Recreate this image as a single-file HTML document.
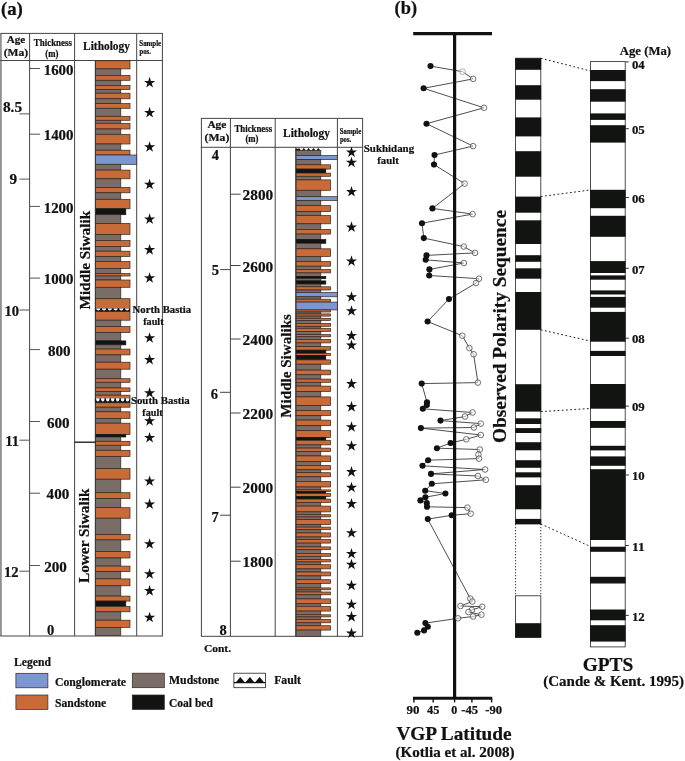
<!DOCTYPE html>
<html><head><meta charset="utf-8"><title>Figure</title>
<style>html,body{margin:0;padding:0;background:#fff}svg{display:block;will-change:transform}text{stroke:#111;stroke-width:0.22px}</style></head>
<body>
<svg width="685" height="761" viewBox="0 0 685 761" font-family="'Liberation Serif', serif" font-weight="bold">
<rect width="685" height="761" fill="#fff"/>
<line x1="0.90" y1="33.40" x2="0.90" y2="636.00" stroke="#909090" stroke-width="1.8"/>
<line x1="29.60" y1="33.40" x2="29.60" y2="636.00" stroke="#444" stroke-width="1"/>
<line x1="74.60" y1="33.40" x2="74.60" y2="636.00" stroke="#444" stroke-width="1"/>
<line x1="136.70" y1="33.40" x2="136.70" y2="636.00" stroke="#444" stroke-width="1"/>
<line x1="162.40" y1="33.40" x2="162.40" y2="636.00" stroke="#444" stroke-width="1"/>
<line x1="0.40" y1="33.40" x2="162.90" y2="33.40" stroke="#444" stroke-width="1"/>
<line x1="0.40" y1="60.50" x2="162.90" y2="60.50" stroke="#444" stroke-width="1"/>
<line x1="0.40" y1="636.00" x2="162.90" y2="636.00" stroke="#444" stroke-width="1"/>
<rect x="95.40" y="60.80" width="34.60" height="8.10" fill="#C96B38" stroke="#33241d" stroke-width="0.7"/>
<rect x="95.40" y="68.90" width="25.40" height="6.50" fill="#7A6D67" stroke="#33241d" stroke-width="0.7"/>
<rect x="95.40" y="75.40" width="34.60" height="4.90" fill="#C96B38" stroke="#33241d" stroke-width="0.7"/>
<rect x="95.40" y="80.30" width="25.40" height="5.10" fill="#7A6D67" stroke="#33241d" stroke-width="0.7"/>
<rect x="95.40" y="85.40" width="34.60" height="4.20" fill="#C96B38" stroke="#33241d" stroke-width="0.7"/>
<rect x="95.40" y="89.60" width="25.40" height="3.60" fill="#7A6D67" stroke="#33241d" stroke-width="0.7"/>
<rect x="95.40" y="93.20" width="34.60" height="5.60" fill="#C96B38" stroke="#33241d" stroke-width="0.7"/>
<rect x="95.40" y="98.80" width="25.40" height="4.80" fill="#7A6D67" stroke="#33241d" stroke-width="0.7"/>
<rect x="95.40" y="103.60" width="34.60" height="4.70" fill="#C96B38" stroke="#33241d" stroke-width="0.7"/>
<rect x="95.40" y="108.30" width="25.40" height="8.00" fill="#7A6D67" stroke="#33241d" stroke-width="0.7"/>
<rect x="95.40" y="116.30" width="34.60" height="4.00" fill="#C96B38" stroke="#33241d" stroke-width="0.7"/>
<rect x="95.40" y="120.30" width="25.40" height="3.00" fill="#7A6D67" stroke="#33241d" stroke-width="0.7"/>
<rect x="95.40" y="123.30" width="34.60" height="5.70" fill="#C96B38" stroke="#33241d" stroke-width="0.7"/>
<rect x="95.40" y="129.00" width="25.40" height="5.30" fill="#7A6D67" stroke="#33241d" stroke-width="0.7"/>
<rect x="95.40" y="134.30" width="34.60" height="9.70" fill="#C96B38" stroke="#33241d" stroke-width="0.7"/>
<rect x="95.40" y="144.00" width="25.40" height="6.20" fill="#7A6D67" stroke="#33241d" stroke-width="0.7"/>
<rect x="95.40" y="150.20" width="34.60" height="4.80" fill="#C96B38" stroke="#33241d" stroke-width="0.7"/>
<rect x="95.40" y="155.00" width="41.30" height="9.30" fill="#7C96D2" stroke="#33241d" stroke-width="0.7"/>
<rect x="95.40" y="164.30" width="25.40" height="5.80" fill="#7A6D67" stroke="#33241d" stroke-width="0.7"/>
<rect x="95.40" y="170.10" width="34.60" height="8.70" fill="#C96B38" stroke="#33241d" stroke-width="0.7"/>
<rect x="95.40" y="178.80" width="25.40" height="8.60" fill="#7A6D67" stroke="#33241d" stroke-width="0.7"/>
<rect x="95.40" y="187.40" width="34.60" height="5.40" fill="#C96B38" stroke="#33241d" stroke-width="0.7"/>
<rect x="95.40" y="192.80" width="25.40" height="6.50" fill="#7A6D67" stroke="#33241d" stroke-width="0.7"/>
<rect x="95.40" y="199.30" width="34.60" height="9.50" fill="#C96B38" stroke="#33241d" stroke-width="0.7"/>
<rect x="95.40" y="208.80" width="30.40" height="5.90" fill="#121412" stroke="#121412" stroke-width="0.7"/>
<rect x="95.40" y="214.70" width="25.40" height="8.70" fill="#7A6D67" stroke="#33241d" stroke-width="0.7"/>
<rect x="95.40" y="223.40" width="34.60" height="11.00" fill="#C96B38" stroke="#33241d" stroke-width="0.7"/>
<rect x="95.40" y="234.40" width="25.40" height="6.10" fill="#7A6D67" stroke="#33241d" stroke-width="0.7"/>
<rect x="95.40" y="240.50" width="34.60" height="5.90" fill="#C96B38" stroke="#33241d" stroke-width="0.7"/>
<rect x="95.40" y="246.40" width="25.40" height="4.80" fill="#7A6D67" stroke="#33241d" stroke-width="0.7"/>
<rect x="95.40" y="251.20" width="34.60" height="5.30" fill="#C96B38" stroke="#33241d" stroke-width="0.7"/>
<rect x="95.40" y="256.50" width="25.40" height="5.00" fill="#7A6D67" stroke="#33241d" stroke-width="0.7"/>
<rect x="95.40" y="261.50" width="34.60" height="7.10" fill="#C96B38" stroke="#33241d" stroke-width="0.7"/>
<rect x="95.40" y="268.60" width="25.40" height="4.90" fill="#7A6D67" stroke="#33241d" stroke-width="0.7"/>
<rect x="95.40" y="273.50" width="34.60" height="2.50" fill="#C96B38" stroke="#33241d" stroke-width="0.7"/>
<rect x="95.40" y="276.00" width="25.40" height="4.00" fill="#7A6D67" stroke="#33241d" stroke-width="0.7"/>
<rect x="95.40" y="280.00" width="34.60" height="7.30" fill="#C96B38" stroke="#33241d" stroke-width="0.7"/>
<rect x="95.40" y="287.30" width="25.40" height="11.40" fill="#7A6D67" stroke="#33241d" stroke-width="0.7"/>
<rect x="95.40" y="298.70" width="34.60" height="9.80" fill="#C96B38" stroke="#33241d" stroke-width="0.7"/>
<rect x="95.40" y="311.40" width="34.60" height="8.80" fill="#C96B38" stroke="#33241d" stroke-width="0.7"/>
<rect x="95.40" y="320.20" width="25.40" height="6.30" fill="#7A6D67" stroke="#33241d" stroke-width="0.7"/>
<rect x="95.40" y="326.50" width="34.60" height="6.10" fill="#C96B38" stroke="#33241d" stroke-width="0.7"/>
<rect x="95.40" y="332.60" width="25.40" height="8.30" fill="#7A6D67" stroke="#33241d" stroke-width="0.7"/>
<rect x="95.40" y="340.90" width="30.40" height="4.00" fill="#121412" stroke="#121412" stroke-width="0.7"/>
<rect x="95.40" y="344.90" width="25.40" height="4.20" fill="#7A6D67" stroke="#33241d" stroke-width="0.7"/>
<rect x="95.40" y="349.10" width="34.60" height="5.80" fill="#C96B38" stroke="#33241d" stroke-width="0.7"/>
<rect x="95.40" y="354.90" width="25.40" height="7.30" fill="#7A6D67" stroke="#33241d" stroke-width="0.7"/>
<rect x="95.40" y="362.20" width="34.60" height="7.00" fill="#C96B38" stroke="#33241d" stroke-width="0.7"/>
<rect x="95.40" y="369.20" width="25.40" height="9.50" fill="#7A6D67" stroke="#33241d" stroke-width="0.7"/>
<rect x="95.40" y="378.70" width="34.60" height="3.60" fill="#C96B38" stroke="#33241d" stroke-width="0.7"/>
<rect x="95.40" y="382.30" width="25.40" height="5.60" fill="#7A6D67" stroke="#33241d" stroke-width="0.7"/>
<rect x="95.40" y="387.90" width="34.60" height="3.60" fill="#C96B38" stroke="#33241d" stroke-width="0.7"/>
<rect x="95.40" y="391.50" width="25.40" height="3.70" fill="#7A6D67" stroke="#33241d" stroke-width="0.7"/>
<rect x="95.40" y="395.20" width="34.60" height="3.20" fill="#C96B38" stroke="#33241d" stroke-width="0.7"/>
<rect x="95.40" y="402.80" width="34.60" height="4.40" fill="#C96B38" stroke="#33241d" stroke-width="0.7"/>
<rect x="95.40" y="407.20" width="25.40" height="4.60" fill="#7A6D67" stroke="#33241d" stroke-width="0.7"/>
<rect x="95.40" y="411.80" width="34.60" height="6.70" fill="#C96B38" stroke="#33241d" stroke-width="0.7"/>
<rect x="95.40" y="418.50" width="25.40" height="4.70" fill="#7A6D67" stroke="#33241d" stroke-width="0.7"/>
<rect x="95.40" y="423.20" width="34.60" height="11.40" fill="#C96B38" stroke="#33241d" stroke-width="0.7"/>
<rect x="95.40" y="434.60" width="30.40" height="2.40" fill="#121412" stroke="#121412" stroke-width="0.7"/>
<rect x="95.40" y="437.00" width="25.40" height="4.30" fill="#7A6D67" stroke="#33241d" stroke-width="0.7"/>
<rect x="95.40" y="441.30" width="34.60" height="4.00" fill="#C96B38" stroke="#33241d" stroke-width="0.7"/>
<rect x="95.40" y="445.30" width="25.40" height="5.00" fill="#7A6D67" stroke="#33241d" stroke-width="0.7"/>
<rect x="95.40" y="450.30" width="34.60" height="6.20" fill="#C96B38" stroke="#33241d" stroke-width="0.7"/>
<rect x="95.40" y="456.50" width="25.40" height="12.10" fill="#7A6D67" stroke="#33241d" stroke-width="0.7"/>
<rect x="95.40" y="468.60" width="34.60" height="10.60" fill="#C96B38" stroke="#33241d" stroke-width="0.7"/>
<rect x="95.40" y="479.20" width="25.40" height="13.50" fill="#7A6D67" stroke="#33241d" stroke-width="0.7"/>
<rect x="95.40" y="492.70" width="34.60" height="5.80" fill="#C96B38" stroke="#33241d" stroke-width="0.7"/>
<rect x="95.40" y="498.50" width="25.40" height="9.20" fill="#7A6D67" stroke="#33241d" stroke-width="0.7"/>
<rect x="95.40" y="507.70" width="34.60" height="10.50" fill="#C96B38" stroke="#33241d" stroke-width="0.7"/>
<rect x="95.40" y="518.20" width="25.40" height="16.30" fill="#7A6D67" stroke="#33241d" stroke-width="0.7"/>
<rect x="95.40" y="534.50" width="34.60" height="5.40" fill="#C96B38" stroke="#33241d" stroke-width="0.7"/>
<rect x="95.40" y="539.90" width="25.40" height="11.70" fill="#7A6D67" stroke="#33241d" stroke-width="0.7"/>
<rect x="95.40" y="551.60" width="34.60" height="6.40" fill="#C96B38" stroke="#33241d" stroke-width="0.7"/>
<rect x="95.40" y="558.00" width="25.40" height="8.10" fill="#7A6D67" stroke="#33241d" stroke-width="0.7"/>
<rect x="95.40" y="566.10" width="34.60" height="5.50" fill="#C96B38" stroke="#33241d" stroke-width="0.7"/>
<rect x="95.40" y="571.60" width="25.40" height="7.30" fill="#7A6D67" stroke="#33241d" stroke-width="0.7"/>
<rect x="95.40" y="578.90" width="34.60" height="6.90" fill="#C96B38" stroke="#33241d" stroke-width="0.7"/>
<rect x="95.40" y="585.80" width="25.40" height="10.30" fill="#7A6D67" stroke="#33241d" stroke-width="0.7"/>
<rect x="95.40" y="596.10" width="34.60" height="5.00" fill="#C96B38" stroke="#33241d" stroke-width="0.7"/>
<rect x="95.40" y="601.10" width="30.40" height="5.30" fill="#121412" stroke="#121412" stroke-width="0.7"/>
<rect x="95.40" y="606.40" width="34.60" height="5.40" fill="#C96B38" stroke="#33241d" stroke-width="0.7"/>
<rect x="95.40" y="611.80" width="25.40" height="8.40" fill="#7A6D67" stroke="#33241d" stroke-width="0.7"/>
<rect x="95.40" y="620.20" width="34.60" height="7.20" fill="#C96B38" stroke="#33241d" stroke-width="0.7"/>
<rect x="95.40" y="627.40" width="25.40" height="8.20" fill="#7A6D67" stroke="#33241d" stroke-width="0.7"/>
<line x1="95.3" y1="60.5" x2="95.3" y2="635.6" stroke="#333" stroke-width="0.9"/>
<rect x="95.10" y="308.60" width="35.20" height="2.90" fill="#111"/>
<path d="M96.21,308.50 A2.08,2.09 0 0 0 100.36,308.50 Z" fill="#fff"/>
<path d="M101.97,308.50 A2.08,2.09 0 0 0 106.13,308.50 Z" fill="#fff"/>
<path d="M107.74,308.50 A2.08,2.09 0 0 0 111.89,308.50 Z" fill="#fff"/>
<path d="M113.51,308.50 A2.08,2.09 0 0 0 117.66,308.50 Z" fill="#fff"/>
<path d="M119.27,308.50 A2.08,2.09 0 0 0 123.43,308.50 Z" fill="#fff"/>
<path d="M125.04,308.50 A2.08,2.09 0 0 0 129.19,308.50 Z" fill="#fff"/>
<rect x="95.10" y="398.40" width="35.20" height="4.40" fill="#111"/>
<path d="M96.09,398.30 A1.78,3.17 0 0 0 99.65,398.30 Z" fill="#fff"/>
<path d="M101.03,398.30 A1.78,3.17 0 0 0 104.59,398.30 Z" fill="#fff"/>
<path d="M105.98,398.30 A1.78,3.17 0 0 0 109.54,398.30 Z" fill="#fff"/>
<path d="M110.92,398.30 A1.78,3.17 0 0 0 114.48,398.30 Z" fill="#fff"/>
<path d="M115.86,398.30 A1.78,3.17 0 0 0 119.42,398.30 Z" fill="#fff"/>
<path d="M120.81,398.30 A1.78,3.17 0 0 0 124.37,398.30 Z" fill="#fff"/>
<path d="M125.75,398.30 A1.78,3.17 0 0 0 129.31,398.30 Z" fill="#fff"/>
<line x1="74.6" y1="442.2" x2="95.6" y2="442.2" stroke="#111" stroke-width="1.3"/>
<polygon points="149.60,76.85 150.91,80.89 155.16,80.89 151.73,83.39 153.04,87.43 149.60,84.93 146.16,87.43 147.47,83.39 144.04,80.89 148.29,80.89" fill="#111"/>
<polygon points="149.60,106.85 150.91,110.89 155.16,110.89 151.73,113.39 153.04,117.43 149.60,114.93 146.16,117.43 147.47,113.39 144.04,110.89 148.29,110.89" fill="#111"/>
<polygon points="149.60,141.15 150.91,145.19 155.16,145.19 151.73,147.69 153.04,151.73 149.60,149.23 146.16,151.73 147.47,147.69 144.04,145.19 148.29,145.19" fill="#111"/>
<polygon points="149.60,178.75 150.91,182.79 155.16,182.79 151.73,185.29 153.04,189.33 149.60,186.83 146.16,189.33 147.47,185.29 144.04,182.79 148.29,182.79" fill="#111"/>
<polygon points="149.60,213.35 150.91,217.39 155.16,217.39 151.73,219.89 153.04,223.93 149.60,221.43 146.16,223.93 147.47,219.89 144.04,217.39 148.29,217.39" fill="#111"/>
<polygon points="149.60,244.05 150.91,248.09 155.16,248.09 151.73,250.59 153.04,254.63 149.60,252.13 146.16,254.63 147.47,250.59 144.04,248.09 148.29,248.09" fill="#111"/>
<polygon points="149.60,272.25 150.91,276.29 155.16,276.29 151.73,278.79 153.04,282.83 149.60,280.33 146.16,282.83 147.47,278.79 144.04,276.29 148.29,276.29" fill="#111"/>
<polygon points="149.60,332.15 150.91,336.19 155.16,336.19 151.73,338.69 153.04,342.73 149.60,340.23 146.16,342.73 147.47,338.69 144.04,336.19 148.29,336.19" fill="#111"/>
<polygon points="149.60,353.85 150.91,357.89 155.16,357.89 151.73,360.39 153.04,364.43 149.60,361.93 146.16,364.43 147.47,360.39 144.04,357.89 148.29,357.89" fill="#111"/>
<polygon points="149.60,387.25 150.91,391.29 155.16,391.29 151.73,393.79 153.04,397.83 149.60,395.33 146.16,397.83 147.47,393.79 144.04,391.29 148.29,391.29" fill="#111"/>
<polygon points="149.60,415.15 150.91,419.19 155.16,419.19 151.73,421.69 153.04,425.73 149.60,423.23 146.16,425.73 147.47,421.69 144.04,419.19 148.29,419.19" fill="#111"/>
<polygon points="149.60,431.95 150.91,435.99 155.16,435.99 151.73,438.49 153.04,442.53 149.60,440.03 146.16,442.53 147.47,438.49 144.04,435.99 148.29,435.99" fill="#111"/>
<polygon points="149.60,475.45 150.91,479.49 155.16,479.49 151.73,481.99 153.04,486.03 149.60,483.53 146.16,486.03 147.47,481.99 144.04,479.49 148.29,479.49" fill="#111"/>
<polygon points="149.60,498.35 150.91,502.39 155.16,502.39 151.73,504.89 153.04,508.93 149.60,506.43 146.16,508.93 147.47,504.89 144.04,502.39 148.29,502.39" fill="#111"/>
<polygon points="149.60,538.25 150.91,542.29 155.16,542.29 151.73,544.79 153.04,548.83 149.60,546.33 146.16,548.83 147.47,544.79 144.04,542.29 148.29,542.29" fill="#111"/>
<polygon points="149.60,568.25 150.91,572.29 155.16,572.29 151.73,574.79 153.04,578.83 149.60,576.33 146.16,578.83 147.47,574.79 144.04,572.29 148.29,572.29" fill="#111"/>
<polygon points="149.60,585.05 150.91,589.09 155.16,589.09 151.73,591.59 153.04,595.63 149.60,593.13 146.16,595.63 147.47,591.59 144.04,589.09 148.29,589.09" fill="#111"/>
<polygon points="149.60,611.75 150.91,615.79 155.16,615.79 151.73,618.29 153.04,622.33 149.60,619.83 146.16,622.33 147.47,618.29 144.04,615.79 148.29,615.79" fill="#111"/>
<text x="15.90" y="42.90" font-size="10.80" text-anchor="middle" fill="#111" textLength="18.50" lengthAdjust="spacingAndGlyphs" >Age</text>
<text x="15.90" y="55.80" font-size="10.60" text-anchor="middle" fill="#111" textLength="24.40" lengthAdjust="spacingAndGlyphs" >(Ma)</text>
<text x="52.90" y="46.30" font-size="9.50" text-anchor="middle" fill="#111" textLength="38.10" lengthAdjust="spacingAndGlyphs" >Thickness</text>
<text x="51.90" y="56.50" font-size="9.50" text-anchor="middle" fill="#111" textLength="13.10" lengthAdjust="spacingAndGlyphs" >(m)</text>
<text x="106.50" y="50.20" font-size="12.00" text-anchor="middle" fill="#111" textLength="46.80" lengthAdjust="spacingAndGlyphs" >Lithology</text>
<text x="139.30" y="46.20" font-size="7.50" text-anchor="start" fill="#111" textLength="21.90" lengthAdjust="spacingAndGlyphs" >Sample</text>
<text x="139.60" y="53.80" font-size="7.50" text-anchor="start" fill="#111" textLength="11.20" lengthAdjust="spacingAndGlyphs" >pos.</text>
<line x1="29.6" y1="68.50" x2="40" y2="68.50" stroke="#555" stroke-width="1"/>
<text x="73.50" y="74.60" font-size="14.50" text-anchor="end" fill="#111" textLength="29.80" lengthAdjust="spacingAndGlyphs" >1600</text>
<line x1="29.6" y1="134.20" x2="40" y2="134.20" stroke="#555" stroke-width="1"/>
<text x="73.50" y="140.30" font-size="14.50" text-anchor="end" fill="#111" textLength="29.80" lengthAdjust="spacingAndGlyphs" >1400</text>
<line x1="29.6" y1="206.40" x2="40" y2="206.40" stroke="#555" stroke-width="1"/>
<text x="73.50" y="212.50" font-size="14.50" text-anchor="end" fill="#111" textLength="29.80" lengthAdjust="spacingAndGlyphs" >1200</text>
<line x1="29.6" y1="278.10" x2="40" y2="278.10" stroke="#555" stroke-width="1"/>
<text x="73.50" y="284.20" font-size="14.50" text-anchor="end" fill="#111" textLength="29.80" lengthAdjust="spacingAndGlyphs" >1000</text>
<line x1="29.6" y1="349.60" x2="40" y2="349.60" stroke="#555" stroke-width="1"/>
<text x="70.50" y="355.80" font-size="14.50" text-anchor="end" fill="#111" textLength="22.60" lengthAdjust="spacingAndGlyphs" >800</text>
<line x1="29.6" y1="421.50" x2="40" y2="421.50" stroke="#555" stroke-width="1"/>
<text x="69.60" y="427.70" font-size="14.50" text-anchor="end" fill="#111" textLength="22.60" lengthAdjust="spacingAndGlyphs" >600</text>
<line x1="29.6" y1="493.20" x2="40" y2="493.20" stroke="#555" stroke-width="1"/>
<text x="69.20" y="499.40" font-size="14.50" text-anchor="end" fill="#111" textLength="22.60" lengthAdjust="spacingAndGlyphs" >400</text>
<line x1="29.6" y1="565.50" x2="40" y2="565.50" stroke="#555" stroke-width="1"/>
<text x="66.90" y="571.70" font-size="14.50" text-anchor="end" fill="#111" textLength="22.60" lengthAdjust="spacingAndGlyphs" >200</text>
<text x="50.60" y="634.90" font-size="14.50" text-anchor="middle" fill="#111" >0</text>
<line x1="19.4" y1="113.90" x2="29.6" y2="113.90" stroke="#555" stroke-width="1"/>
<text x="2.90" y="112.00" font-size="14.50" text-anchor="start" fill="#111" textLength="19.20" lengthAdjust="spacingAndGlyphs" >8.5</text>
<line x1="19.4" y1="179.10" x2="29.6" y2="179.10" stroke="#555" stroke-width="1"/>
<text x="9.60" y="184.00" font-size="14.50" text-anchor="start" fill="#111" textLength="7.60" lengthAdjust="spacingAndGlyphs" >9</text>
<line x1="19.4" y1="310.00" x2="29.6" y2="310.00" stroke="#555" stroke-width="1"/>
<text x="4.40" y="315.50" font-size="14.50" text-anchor="start" fill="#111" textLength="14.60" lengthAdjust="spacingAndGlyphs" >10</text>
<line x1="19.4" y1="440.20" x2="29.6" y2="440.20" stroke="#555" stroke-width="1"/>
<text x="5.30" y="446.20" font-size="14.50" text-anchor="start" fill="#111" textLength="13.80" lengthAdjust="spacingAndGlyphs" >11</text>
<line x1="19.4" y1="571.20" x2="29.6" y2="571.20" stroke="#555" stroke-width="1"/>
<text x="4.00" y="576.60" font-size="14.50" text-anchor="start" fill="#111" textLength="14.60" lengthAdjust="spacingAndGlyphs" >12</text>
<text transform="translate(89.8,260.2) rotate(-90)" font-size="15.5" text-anchor="middle" textLength="98.6" lengthAdjust="spacingAndGlyphs" fill="#111">Middle Siwalik</text>
<text transform="translate(89.0,535.8) rotate(-90)" font-size="15.5" text-anchor="middle" textLength="94.5" lengthAdjust="spacingAndGlyphs" fill="#111">Lower Siwalik</text>
<text x="132.60" y="313.00" font-size="10.70" text-anchor="start" fill="#111" textLength="58.60" lengthAdjust="spacingAndGlyphs" >North Bastia</text>
<text x="143.20" y="324.60" font-size="10.70" text-anchor="start" fill="#111" textLength="20.40" lengthAdjust="spacingAndGlyphs" >fault</text>
<text x="130.90" y="403.90" font-size="10.70" text-anchor="start" fill="#111" textLength="58.90" lengthAdjust="spacingAndGlyphs" >South Bastia</text>
<text x="142.30" y="415.50" font-size="10.70" text-anchor="start" fill="#111" textLength="20.40" lengthAdjust="spacingAndGlyphs" >fault</text>
<text x="0.90" y="15.20" font-size="19.00" text-anchor="start" fill="#111" textLength="22.00" lengthAdjust="spacingAndGlyphs" >(a)</text>
<text x="394.60" y="14.20" font-size="18.50" text-anchor="start" fill="#111" textLength="22.40" lengthAdjust="spacingAndGlyphs" >(b)</text>
<line x1="201.40" y1="118.40" x2="201.40" y2="636.30" stroke="#444" stroke-width="1"/>
<line x1="230.40" y1="118.40" x2="230.40" y2="636.30" stroke="#444" stroke-width="1"/>
<line x1="275.20" y1="118.40" x2="275.20" y2="636.30" stroke="#444" stroke-width="1"/>
<line x1="337.40" y1="118.40" x2="337.40" y2="636.30" stroke="#444" stroke-width="1"/>
<line x1="362.60" y1="118.40" x2="362.60" y2="636.30" stroke="#444" stroke-width="1"/>
<line x1="200.90" y1="118.40" x2="363.10" y2="118.40" stroke="#444" stroke-width="1"/>
<line x1="200.90" y1="147.30" x2="363.10" y2="147.30" stroke="#444" stroke-width="1"/>
<line x1="200.90" y1="636.30" x2="363.10" y2="636.30" stroke="#444" stroke-width="1"/>
<rect x="296.00" y="150.40" width="24.80" height="5.20" fill="#7A6D67" stroke="#33241d" stroke-width="0.7"/>
<rect x="296.00" y="155.60" width="41.30" height="4.00" fill="#7C96D2" stroke="#33241d" stroke-width="0.7"/>
<rect x="296.00" y="159.60" width="24.80" height="5.20" fill="#7A6D67" stroke="#33241d" stroke-width="0.7"/>
<rect x="296.00" y="164.80" width="34.60" height="4.30" fill="#C96B38" stroke="#33241d" stroke-width="0.7"/>
<rect x="296.00" y="169.10" width="29.80" height="4.00" fill="#121412" stroke="#121412" stroke-width="0.7"/>
<rect x="296.00" y="173.10" width="34.60" height="3.20" fill="#C96B38" stroke="#33241d" stroke-width="0.7"/>
<rect x="296.00" y="176.30" width="24.80" height="3.60" fill="#7A6D67" stroke="#33241d" stroke-width="0.7"/>
<rect x="296.00" y="179.90" width="34.60" height="10.40" fill="#C96B38" stroke="#33241d" stroke-width="0.7"/>
<rect x="296.00" y="190.30" width="24.80" height="6.40" fill="#7A6D67" stroke="#33241d" stroke-width="0.7"/>
<rect x="296.00" y="196.70" width="41.30" height="3.80" fill="#7C96D2" stroke="#33241d" stroke-width="0.7"/>
<rect x="296.00" y="200.50" width="24.80" height="5.10" fill="#7A6D67" stroke="#33241d" stroke-width="0.7"/>
<rect x="296.00" y="205.60" width="34.60" height="6.00" fill="#C96B38" stroke="#33241d" stroke-width="0.7"/>
<rect x="296.00" y="211.60" width="24.80" height="3.90" fill="#7A6D67" stroke="#33241d" stroke-width="0.7"/>
<rect x="296.00" y="215.50" width="34.60" height="8.30" fill="#C96B38" stroke="#33241d" stroke-width="0.7"/>
<rect x="296.00" y="223.80" width="24.80" height="5.60" fill="#7A6D67" stroke="#33241d" stroke-width="0.7"/>
<rect x="296.00" y="229.40" width="34.60" height="4.70" fill="#C96B38" stroke="#33241d" stroke-width="0.7"/>
<rect x="296.00" y="234.10" width="24.80" height="5.50" fill="#7A6D67" stroke="#33241d" stroke-width="0.7"/>
<rect x="296.00" y="239.60" width="29.80" height="3.70" fill="#121412" stroke="#121412" stroke-width="0.7"/>
<rect x="296.00" y="243.30" width="24.80" height="5.50" fill="#7A6D67" stroke="#33241d" stroke-width="0.7"/>
<rect x="296.00" y="248.80" width="34.60" height="7.60" fill="#C96B38" stroke="#33241d" stroke-width="0.7"/>
<rect x="296.00" y="256.40" width="24.80" height="5.10" fill="#7A6D67" stroke="#33241d" stroke-width="0.7"/>
<rect x="296.00" y="261.50" width="34.60" height="4.70" fill="#C96B38" stroke="#33241d" stroke-width="0.7"/>
<rect x="296.00" y="266.20" width="24.80" height="3.30" fill="#7A6D67" stroke="#33241d" stroke-width="0.7"/>
<rect x="296.00" y="269.50" width="34.60" height="3.40" fill="#C96B38" stroke="#33241d" stroke-width="0.7"/>
<rect x="296.00" y="272.90" width="24.80" height="3.50" fill="#7A6D67" stroke="#33241d" stroke-width="0.7"/>
<rect x="296.00" y="276.40" width="29.80" height="2.30" fill="#121412" stroke="#121412" stroke-width="0.7"/>
<rect x="296.00" y="278.70" width="24.80" height="2.20" fill="#7A6D67" stroke="#33241d" stroke-width="0.7"/>
<rect x="296.00" y="280.90" width="29.80" height="3.20" fill="#121412" stroke="#121412" stroke-width="0.7"/>
<rect x="296.00" y="284.10" width="24.80" height="2.70" fill="#7A6D67" stroke="#33241d" stroke-width="0.7"/>
<rect x="296.00" y="286.80" width="34.60" height="3.20" fill="#C96B38" stroke="#33241d" stroke-width="0.7"/>
<rect x="296.00" y="290.00" width="24.80" height="2.50" fill="#7A6D67" stroke="#33241d" stroke-width="0.7"/>
<rect x="296.00" y="292.50" width="41.30" height="4.30" fill="#7C96D2" stroke="#33241d" stroke-width="0.7"/>
<rect x="296.00" y="296.80" width="24.80" height="2.40" fill="#7A6D67" stroke="#33241d" stroke-width="0.7"/>
<rect x="296.00" y="299.20" width="34.60" height="2.90" fill="#C96B38" stroke="#33241d" stroke-width="0.7"/>
<rect x="296.00" y="302.10" width="41.30" height="7.80" fill="#7C96D2" stroke="#33241d" stroke-width="0.7"/>
<rect x="296.00" y="309.90" width="34.60" height="2.10" fill="#C96B38" stroke="#33241d" stroke-width="0.7"/>
<rect x="296.00" y="312.00" width="24.80" height="1.90" fill="#7A6D67" stroke="#33241d" stroke-width="0.7"/>
<rect x="296.00" y="313.90" width="34.60" height="2.20" fill="#C96B38" stroke="#33241d" stroke-width="0.7"/>
<rect x="296.00" y="316.10" width="24.80" height="2.20" fill="#7A6D67" stroke="#33241d" stroke-width="0.7"/>
<rect x="296.00" y="318.30" width="34.60" height="2.10" fill="#C96B38" stroke="#33241d" stroke-width="0.7"/>
<rect x="296.00" y="320.40" width="24.80" height="3.00" fill="#7A6D67" stroke="#33241d" stroke-width="0.7"/>
<rect x="296.00" y="323.40" width="34.60" height="2.90" fill="#C96B38" stroke="#33241d" stroke-width="0.7"/>
<rect x="296.00" y="326.30" width="24.80" height="2.00" fill="#7A6D67" stroke="#33241d" stroke-width="0.7"/>
<rect x="296.00" y="328.30" width="34.60" height="3.10" fill="#C96B38" stroke="#33241d" stroke-width="0.7"/>
<rect x="296.00" y="331.40" width="24.80" height="3.20" fill="#7A6D67" stroke="#33241d" stroke-width="0.7"/>
<rect x="296.00" y="334.60" width="34.60" height="2.20" fill="#C96B38" stroke="#33241d" stroke-width="0.7"/>
<rect x="296.00" y="336.80" width="24.80" height="2.60" fill="#7A6D67" stroke="#33241d" stroke-width="0.7"/>
<rect x="296.00" y="339.40" width="34.60" height="3.50" fill="#C96B38" stroke="#33241d" stroke-width="0.7"/>
<rect x="296.00" y="342.90" width="24.80" height="3.70" fill="#7A6D67" stroke="#33241d" stroke-width="0.7"/>
<rect x="296.00" y="346.60" width="34.60" height="3.60" fill="#C96B38" stroke="#33241d" stroke-width="0.7"/>
<rect x="296.00" y="350.20" width="29.80" height="3.10" fill="#121412" stroke="#121412" stroke-width="0.7"/>
<rect x="296.00" y="353.30" width="34.60" height="2.20" fill="#C96B38" stroke="#33241d" stroke-width="0.7"/>
<rect x="296.00" y="355.50" width="29.80" height="4.40" fill="#121412" stroke="#121412" stroke-width="0.7"/>
<rect x="296.00" y="359.90" width="34.60" height="4.30" fill="#C96B38" stroke="#33241d" stroke-width="0.7"/>
<rect x="296.00" y="364.20" width="24.80" height="5.90" fill="#7A6D67" stroke="#33241d" stroke-width="0.7"/>
<rect x="296.00" y="370.10" width="34.60" height="4.70" fill="#C96B38" stroke="#33241d" stroke-width="0.7"/>
<rect x="296.00" y="374.80" width="24.80" height="4.30" fill="#7A6D67" stroke="#33241d" stroke-width="0.7"/>
<rect x="296.00" y="379.10" width="34.60" height="3.20" fill="#C96B38" stroke="#33241d" stroke-width="0.7"/>
<rect x="296.00" y="382.30" width="24.80" height="3.80" fill="#7A6D67" stroke="#33241d" stroke-width="0.7"/>
<rect x="296.00" y="386.10" width="34.60" height="5.40" fill="#C96B38" stroke="#33241d" stroke-width="0.7"/>
<rect x="296.00" y="391.50" width="24.80" height="5.40" fill="#7A6D67" stroke="#33241d" stroke-width="0.7"/>
<rect x="296.00" y="396.90" width="34.60" height="8.70" fill="#C96B38" stroke="#33241d" stroke-width="0.7"/>
<rect x="296.00" y="405.60" width="24.80" height="5.00" fill="#7A6D67" stroke="#33241d" stroke-width="0.7"/>
<rect x="296.00" y="410.60" width="34.60" height="5.10" fill="#C96B38" stroke="#33241d" stroke-width="0.7"/>
<rect x="296.00" y="415.70" width="24.80" height="4.40" fill="#7A6D67" stroke="#33241d" stroke-width="0.7"/>
<rect x="296.00" y="420.10" width="34.60" height="5.60" fill="#C96B38" stroke="#33241d" stroke-width="0.7"/>
<rect x="296.00" y="425.70" width="24.80" height="4.90" fill="#7A6D67" stroke="#33241d" stroke-width="0.7"/>
<rect x="296.00" y="430.60" width="34.60" height="7.00" fill="#C96B38" stroke="#33241d" stroke-width="0.7"/>
<rect x="296.00" y="437.60" width="29.80" height="2.70" fill="#121412" stroke="#121412" stroke-width="0.7"/>
<rect x="296.00" y="440.30" width="34.60" height="4.60" fill="#C96B38" stroke="#33241d" stroke-width="0.7"/>
<rect x="296.00" y="444.90" width="24.80" height="3.20" fill="#7A6D67" stroke="#33241d" stroke-width="0.7"/>
<rect x="296.00" y="448.10" width="34.60" height="3.40" fill="#C96B38" stroke="#33241d" stroke-width="0.7"/>
<rect x="296.00" y="451.50" width="24.80" height="4.40" fill="#7A6D67" stroke="#33241d" stroke-width="0.7"/>
<rect x="296.00" y="455.90" width="34.60" height="5.80" fill="#C96B38" stroke="#33241d" stroke-width="0.7"/>
<rect x="296.00" y="461.70" width="24.80" height="3.70" fill="#7A6D67" stroke="#33241d" stroke-width="0.7"/>
<rect x="296.00" y="465.40" width="34.60" height="4.40" fill="#C96B38" stroke="#33241d" stroke-width="0.7"/>
<rect x="296.00" y="469.80" width="24.80" height="2.90" fill="#7A6D67" stroke="#33241d" stroke-width="0.7"/>
<rect x="296.00" y="472.70" width="34.60" height="4.10" fill="#C96B38" stroke="#33241d" stroke-width="0.7"/>
<rect x="296.00" y="476.80" width="24.80" height="4.60" fill="#7A6D67" stroke="#33241d" stroke-width="0.7"/>
<rect x="296.00" y="481.40" width="34.60" height="5.60" fill="#C96B38" stroke="#33241d" stroke-width="0.7"/>
<rect x="296.00" y="487.00" width="24.80" height="2.90" fill="#7A6D67" stroke="#33241d" stroke-width="0.7"/>
<rect x="296.00" y="489.90" width="34.60" height="1.50" fill="#C96B38" stroke="#33241d" stroke-width="0.7"/>
<rect x="296.00" y="491.40" width="29.80" height="2.10" fill="#121412" stroke="#121412" stroke-width="0.7"/>
<rect x="296.00" y="493.50" width="34.60" height="3.10" fill="#C96B38" stroke="#33241d" stroke-width="0.7"/>
<rect x="296.00" y="496.60" width="29.80" height="2.50" fill="#121412" stroke="#121412" stroke-width="0.7"/>
<rect x="296.00" y="499.10" width="34.60" height="3.40" fill="#C96B38" stroke="#33241d" stroke-width="0.7"/>
<rect x="296.00" y="502.50" width="24.80" height="3.60" fill="#7A6D67" stroke="#33241d" stroke-width="0.7"/>
<rect x="296.00" y="506.10" width="34.60" height="5.80" fill="#C96B38" stroke="#33241d" stroke-width="0.7"/>
<rect x="296.00" y="511.90" width="24.80" height="2.80" fill="#7A6D67" stroke="#33241d" stroke-width="0.7"/>
<rect x="296.00" y="514.70" width="34.60" height="2.20" fill="#C96B38" stroke="#33241d" stroke-width="0.7"/>
<rect x="296.00" y="516.90" width="24.80" height="2.60" fill="#7A6D67" stroke="#33241d" stroke-width="0.7"/>
<rect x="296.00" y="519.50" width="34.60" height="5.10" fill="#C96B38" stroke="#33241d" stroke-width="0.7"/>
<rect x="296.00" y="524.60" width="24.80" height="2.50" fill="#7A6D67" stroke="#33241d" stroke-width="0.7"/>
<rect x="296.00" y="527.10" width="34.60" height="2.60" fill="#C96B38" stroke="#33241d" stroke-width="0.7"/>
<rect x="296.00" y="529.70" width="24.80" height="3.20" fill="#7A6D67" stroke="#33241d" stroke-width="0.7"/>
<rect x="296.00" y="532.90" width="34.60" height="4.10" fill="#C96B38" stroke="#33241d" stroke-width="0.7"/>
<rect x="296.00" y="537.00" width="24.80" height="2.60" fill="#7A6D67" stroke="#33241d" stroke-width="0.7"/>
<rect x="296.00" y="539.60" width="34.60" height="3.50" fill="#C96B38" stroke="#33241d" stroke-width="0.7"/>
<rect x="296.00" y="543.10" width="24.80" height="3.80" fill="#7A6D67" stroke="#33241d" stroke-width="0.7"/>
<rect x="296.00" y="546.90" width="34.60" height="2.80" fill="#C96B38" stroke="#33241d" stroke-width="0.7"/>
<rect x="296.00" y="549.70" width="24.80" height="3.80" fill="#7A6D67" stroke="#33241d" stroke-width="0.7"/>
<rect x="296.00" y="553.50" width="34.60" height="2.80" fill="#C96B38" stroke="#33241d" stroke-width="0.7"/>
<rect x="296.00" y="556.30" width="24.80" height="3.30" fill="#7A6D67" stroke="#33241d" stroke-width="0.7"/>
<rect x="296.00" y="559.60" width="34.60" height="2.30" fill="#C96B38" stroke="#33241d" stroke-width="0.7"/>
<rect x="296.00" y="561.90" width="24.80" height="2.80" fill="#7A6D67" stroke="#33241d" stroke-width="0.7"/>
<rect x="296.00" y="564.70" width="34.60" height="4.20" fill="#C96B38" stroke="#33241d" stroke-width="0.7"/>
<rect x="296.00" y="568.90" width="24.80" height="3.10" fill="#7A6D67" stroke="#33241d" stroke-width="0.7"/>
<rect x="296.00" y="572.00" width="34.60" height="3.90" fill="#C96B38" stroke="#33241d" stroke-width="0.7"/>
<rect x="296.00" y="575.90" width="24.80" height="3.80" fill="#7A6D67" stroke="#33241d" stroke-width="0.7"/>
<rect x="296.00" y="579.70" width="34.60" height="3.70" fill="#C96B38" stroke="#33241d" stroke-width="0.7"/>
<rect x="296.00" y="583.40" width="24.80" height="4.40" fill="#7A6D67" stroke="#33241d" stroke-width="0.7"/>
<rect x="296.00" y="587.90" width="34.60" height="1.90" fill="#C96B38" stroke="#33241d" stroke-width="0.7"/>
<rect x="296.00" y="589.80" width="24.80" height="2.20" fill="#7A6D67" stroke="#33241d" stroke-width="0.7"/>
<rect x="296.00" y="592.00" width="34.60" height="2.80" fill="#C96B38" stroke="#33241d" stroke-width="0.7"/>
<rect x="296.00" y="594.80" width="24.80" height="4.10" fill="#7A6D67" stroke="#33241d" stroke-width="0.7"/>
<rect x="296.00" y="598.90" width="34.60" height="4.80" fill="#C96B38" stroke="#33241d" stroke-width="0.7"/>
<rect x="296.00" y="603.70" width="24.80" height="2.60" fill="#7A6D67" stroke="#33241d" stroke-width="0.7"/>
<rect x="296.00" y="606.30" width="34.60" height="4.80" fill="#C96B38" stroke="#33241d" stroke-width="0.7"/>
<rect x="296.00" y="611.10" width="24.80" height="3.70" fill="#7A6D67" stroke="#33241d" stroke-width="0.7"/>
<rect x="296.00" y="614.80" width="34.60" height="2.10" fill="#C96B38" stroke="#33241d" stroke-width="0.7"/>
<rect x="296.00" y="616.90" width="24.80" height="2.50" fill="#7A6D67" stroke="#33241d" stroke-width="0.7"/>
<rect x="296.00" y="619.40" width="34.60" height="3.40" fill="#C96B38" stroke="#33241d" stroke-width="0.7"/>
<rect x="296.00" y="622.80" width="24.80" height="2.90" fill="#7A6D67" stroke="#33241d" stroke-width="0.7"/>
<rect x="296.00" y="625.70" width="34.60" height="4.40" fill="#C96B38" stroke="#33241d" stroke-width="0.7"/>
<rect x="296.00" y="630.10" width="24.80" height="6.20" fill="#7A6D67" stroke="#33241d" stroke-width="0.7"/>
<polygon points="295.10,150.20 298.70,150.20 296.90,147.90" fill="#111"/>
<polygon points="297.20,150.20 300.80,150.20 299.00,147.90" fill="#111"/>
<polygon points="302.00,150.20 305.60,150.20 303.80,147.90" fill="#111"/>
<polygon points="306.80,150.20 310.40,150.20 308.60,147.90" fill="#111"/>
<polygon points="311.70,150.20 315.30,150.20 313.50,147.90" fill="#111"/>
<polygon points="316.50,150.20 320.10,150.20 318.30,147.90" fill="#111"/>
<line x1="295.7" y1="147.6" x2="295.7" y2="636" stroke="#333" stroke-width="0.9"/>
<polygon points="351.50,146.45 352.81,150.49 357.06,150.49 353.63,152.99 354.94,157.03 351.50,154.53 348.06,157.03 349.37,152.99 345.94,150.49 350.19,150.49" fill="#111"/>
<polygon points="351.50,156.75 352.81,160.79 357.06,160.79 353.63,163.29 354.94,167.33 351.50,164.83 348.06,167.33 349.37,163.29 345.94,160.79 350.19,160.79" fill="#111"/>
<polygon points="351.50,185.95 352.81,189.99 357.06,189.99 353.63,192.49 354.94,196.53 351.50,194.03 348.06,196.53 349.37,192.49 345.94,189.99 350.19,189.99" fill="#111"/>
<polygon points="351.50,221.35 352.81,225.39 357.06,225.39 353.63,227.89 354.94,231.93 351.50,229.43 348.06,231.93 349.37,227.89 345.94,225.39 350.19,225.39" fill="#111"/>
<polygon points="351.50,255.35 352.81,259.39 357.06,259.39 353.63,261.89 354.94,265.93 351.50,263.43 348.06,265.93 349.37,261.89 345.94,259.39 350.19,259.39" fill="#111"/>
<polygon points="351.50,291.15 352.81,295.19 357.06,295.19 353.63,297.69 354.94,301.73 351.50,299.23 348.06,301.73 349.37,297.69 345.94,295.19 350.19,295.19" fill="#111"/>
<polygon points="351.50,305.25 352.81,309.29 357.06,309.29 353.63,311.79 354.94,315.83 351.50,313.33 348.06,315.83 349.37,311.79 345.94,309.29 350.19,309.29" fill="#111"/>
<polygon points="351.50,329.95 352.81,333.99 357.06,333.99 353.63,336.49 354.94,340.53 351.50,338.03 348.06,340.53 349.37,336.49 345.94,333.99 350.19,333.99" fill="#111"/>
<polygon points="351.50,339.45 352.81,343.49 357.06,343.49 353.63,345.99 354.94,350.03 351.50,347.53 348.06,350.03 349.37,345.99 345.94,343.49 350.19,343.49" fill="#111"/>
<polygon points="351.50,378.05 352.81,382.09 357.06,382.09 353.63,384.59 354.94,388.63 351.50,386.13 348.06,388.63 349.37,384.59 345.94,382.09 350.19,382.09" fill="#111"/>
<polygon points="351.50,401.05 352.81,405.09 357.06,405.09 353.63,407.59 354.94,411.63 351.50,409.13 348.06,411.63 349.37,407.59 345.94,405.09 350.19,405.09" fill="#111"/>
<polygon points="351.50,421.25 352.81,425.29 357.06,425.29 353.63,427.79 354.94,431.83 351.50,429.33 348.06,431.83 349.37,427.79 345.94,425.29 350.19,425.29" fill="#111"/>
<polygon points="351.50,440.25 352.81,444.29 357.06,444.29 353.63,446.79 354.94,450.83 351.50,448.33 348.06,450.83 349.37,446.79 345.94,444.29 350.19,444.29" fill="#111"/>
<polygon points="351.50,466.05 352.81,470.09 357.06,470.09 353.63,472.59 354.94,476.63 351.50,474.13 348.06,476.63 349.37,472.59 345.94,470.09 350.19,470.09" fill="#111"/>
<polygon points="351.50,481.75 352.81,485.79 357.06,485.79 353.63,488.29 354.94,492.33 351.50,489.83 348.06,492.33 349.37,488.29 345.94,485.79 350.19,485.79" fill="#111"/>
<polygon points="351.50,498.05 352.81,502.09 357.06,502.09 353.63,504.59 354.94,508.63 351.50,506.13 348.06,508.63 349.37,504.59 345.94,502.09 350.19,502.09" fill="#111"/>
<polygon points="351.50,527.25 352.81,531.29 357.06,531.29 353.63,533.79 354.94,537.83 351.50,535.33 348.06,537.83 349.37,533.79 345.94,531.29 350.19,531.29" fill="#111"/>
<polygon points="351.50,547.95 352.81,551.99 357.06,551.99 353.63,554.49 354.94,558.53 351.50,556.03 348.06,558.53 349.37,554.49 345.94,551.99 350.19,551.99" fill="#111"/>
<polygon points="351.50,558.75 352.81,562.79 357.06,562.79 353.63,565.29 354.94,569.33 351.50,566.83 348.06,569.33 349.37,565.29 345.94,562.79 350.19,562.79" fill="#111"/>
<polygon points="351.50,579.65 352.81,583.69 357.06,583.69 353.63,586.19 354.94,590.23 351.50,587.73 348.06,590.23 349.37,586.19 345.94,583.69 350.19,583.69" fill="#111"/>
<polygon points="351.50,598.65 352.81,602.69 357.06,602.69 353.63,605.19 354.94,609.23 351.50,606.73 348.06,609.23 349.37,605.19 345.94,602.69 350.19,602.69" fill="#111"/>
<polygon points="351.50,611.05 352.81,615.09 357.06,615.09 353.63,617.59 354.94,621.63 351.50,619.13 348.06,621.63 349.37,617.59 345.94,615.09 350.19,615.09" fill="#111"/>
<polygon points="351.50,627.45 352.81,631.49 357.06,631.49 353.63,633.99 354.94,638.03 351.50,635.53 348.06,638.03 349.37,633.99 345.94,631.49 350.19,631.49" fill="#111"/>
<text x="216.90" y="128.30" font-size="10.80" text-anchor="middle" fill="#111" textLength="19.00" lengthAdjust="spacingAndGlyphs" >Age</text>
<text x="216.90" y="141.10" font-size="10.60" text-anchor="middle" fill="#111" textLength="24.80" lengthAdjust="spacingAndGlyphs" >(Ma)</text>
<text x="253.30" y="132.00" font-size="9.50" text-anchor="middle" fill="#111" textLength="37.70" lengthAdjust="spacingAndGlyphs" >Thickness</text>
<text x="252.00" y="142.20" font-size="9.50" text-anchor="middle" fill="#111" textLength="13.10" lengthAdjust="spacingAndGlyphs" >(m)</text>
<text x="306.50" y="137.10" font-size="12.00" text-anchor="middle" fill="#111" textLength="46.80" lengthAdjust="spacingAndGlyphs" >Lithology</text>
<text x="339.80" y="133.80" font-size="7.50" text-anchor="start" fill="#111" textLength="21.40" lengthAdjust="spacingAndGlyphs" >Sample</text>
<text x="339.90" y="141.50" font-size="7.50" text-anchor="start" fill="#111" textLength="11.30" lengthAdjust="spacingAndGlyphs" >pos.</text>
<line x1="230.4" y1="194.20" x2="240.6" y2="194.20" stroke="#444" stroke-width="1"/>
<text x="273.20" y="200.30" font-size="14.50" text-anchor="end" fill="#111" textLength="30.60" lengthAdjust="spacingAndGlyphs" >2800</text>
<line x1="230.4" y1="265.50" x2="240.6" y2="265.50" stroke="#444" stroke-width="1"/>
<text x="273.20" y="271.60" font-size="14.50" text-anchor="end" fill="#111" textLength="30.60" lengthAdjust="spacingAndGlyphs" >2600</text>
<line x1="230.4" y1="339.00" x2="240.6" y2="339.00" stroke="#444" stroke-width="1"/>
<text x="273.20" y="345.10" font-size="14.50" text-anchor="end" fill="#111" textLength="30.60" lengthAdjust="spacingAndGlyphs" >2400</text>
<line x1="230.4" y1="413.00" x2="240.6" y2="413.00" stroke="#444" stroke-width="1"/>
<text x="273.20" y="419.10" font-size="14.50" text-anchor="end" fill="#111" textLength="30.60" lengthAdjust="spacingAndGlyphs" >2200</text>
<line x1="230.4" y1="487.20" x2="240.6" y2="487.20" stroke="#444" stroke-width="1"/>
<text x="273.20" y="493.30" font-size="14.50" text-anchor="end" fill="#111" textLength="30.60" lengthAdjust="spacingAndGlyphs" >2000</text>
<line x1="230.4" y1="561.20" x2="240.6" y2="561.20" stroke="#444" stroke-width="1"/>
<text x="273.20" y="567.30" font-size="14.50" text-anchor="end" fill="#111" textLength="30.60" lengthAdjust="spacingAndGlyphs" >1800</text>
<text x="211.80" y="160.30" font-size="14.50" text-anchor="start" fill="#111" >4</text>
<line x1="220.1" y1="269.60" x2="230.4" y2="269.60" stroke="#444" stroke-width="1"/>
<text x="211.80" y="275.30" font-size="14.50" text-anchor="start" fill="#111" >5</text>
<line x1="220.1" y1="392.30" x2="230.4" y2="392.30" stroke="#444" stroke-width="1"/>
<text x="210.80" y="398.70" font-size="14.50" text-anchor="start" fill="#111" >6</text>
<line x1="220.1" y1="515.20" x2="230.4" y2="515.20" stroke="#444" stroke-width="1"/>
<text x="211.50" y="522.20" font-size="14.50" text-anchor="start" fill="#111" >7</text>
<text x="219.60" y="635.00" font-size="14.50" text-anchor="start" fill="#111" >8</text>
<text transform="translate(291.0,365.9) rotate(-90)" font-size="15.5" text-anchor="middle" textLength="103.6" lengthAdjust="spacingAndGlyphs" fill="#111">Middle Siwaliks</text>
<text x="203.90" y="651.70" font-size="11.20" text-anchor="start" fill="#111" textLength="27.20" lengthAdjust="spacingAndGlyphs" >Cont.</text>
<text x="363.80" y="152.20" font-size="11.00" text-anchor="start" fill="#111" textLength="50.30" lengthAdjust="spacingAndGlyphs" >Sukhidang</text>
<text x="377.20" y="163.90" font-size="11.00" text-anchor="start" fill="#111" textLength="21.60" lengthAdjust="spacingAndGlyphs" >fault</text>
<text x="14.00" y="665.70" font-size="11.50" text-anchor="start" fill="#111" textLength="36.90" lengthAdjust="spacingAndGlyphs" >Legend</text>
<rect x="15.90" y="673.30" width="32" height="14.5" fill="#7C96D2" stroke="#33241d" stroke-width="0.7"/>
<rect x="15.90" y="695.00" width="32" height="14.5" fill="#C96B38" stroke="#33241d" stroke-width="0.7"/>
<rect x="132.30" y="673.20" width="32" height="14.5" fill="#7A6D67" stroke="#33241d" stroke-width="0.7"/>
<rect x="132.30" y="695.00" width="32" height="14.5" fill="#121412" stroke="#33241d" stroke-width="0.7"/>
<text x="54.90" y="685.60" font-size="11.50" text-anchor="start" fill="#111" textLength="71.20" lengthAdjust="spacingAndGlyphs" >Conglomerate</text>
<text x="54.90" y="707.40" font-size="11.50" text-anchor="start" fill="#111" textLength="51.40" lengthAdjust="spacingAndGlyphs" >Sandstone</text>
<text x="169.00" y="684.40" font-size="11.50" text-anchor="start" fill="#111" textLength="50.30" lengthAdjust="spacingAndGlyphs" >Mudstone</text>
<text x="169.00" y="706.70" font-size="11.50" text-anchor="start" fill="#111" textLength="43.80" lengthAdjust="spacingAndGlyphs" >Coal bed</text>
<rect x="233.9" y="673.2" width="31.5" height="14.5" fill="#fff" stroke="#222" stroke-width="0.8"/>
<line x1="233.9" y1="682.6" x2="265.4" y2="682.6" stroke="#111" stroke-width="1.2"/>
<polygon points="235.70,682.6 244.90,682.6 240.30,676.9" fill="#111"/>
<polygon points="245.30,682.6 254.50,682.6 249.90,676.9" fill="#111"/>
<polygon points="255.00,682.6 264.20,682.6 259.60,676.9" fill="#111"/>
<text x="274.20" y="684.40" font-size="11.50" text-anchor="start" fill="#111" textLength="26.80" lengthAdjust="spacingAndGlyphs" >Fault</text>
<polyline points="430.5,66.1 462.6,71.7 473.1,78.9 423.6,88.3 484.0,107.8 426.5,123.7 473.1,146.1 434.5,155.0 434.0,164.6 464.6,183.6 432.4,208.4 472.6,214.1 422.0,223.2 423.8,238.1 463.8,246.6 475.0,252.9 426.5,255.4 425.7,259.8 463.9,263.0 429.4,269.4 429.2,275.5 479.0,278.7 476.0,283.1 449.0,299.1 427.6,321.5 462.3,335.7 469.4,348.1 473.6,354.2 477.9,382.6 421.7,383.6 427.0,402.3 426.8,405.1 422.8,408.8 472.6,412.5 465.0,416.5 440.5,420.6 480.8,423.6 473.9,427.5 420.9,428.1 480.8,435.0 466.3,439.3 450.6,443.0 436.9,448.2 479.8,449.5 478.4,454.6 479.0,458.6 428.1,460.2 422.5,465.8 485.1,469.5 431.0,473.9 477.9,476.0 485.9,479.8 431.8,483.8 425.2,490.7 445.4,493.5 425.4,497.2 420.4,500.4 426.8,503.1 427.0,506.8 467.4,507.6 470.7,513.7 451.7,515.3 427.8,519.1 470.3,598.6 472.3,601.5 460.5,606.0 482.2,606.7 471.9,609.9 468.5,612.0 481.4,614.7 473.1,616.5 458.0,618.3 425.4,623.1 427.8,626.8 424.1,630.4 417.3,632.7" fill="none" stroke="#222" stroke-width="0.8"/>
<line x1="454.60" y1="33.5" x2="454.60" y2="698.5" stroke="#111" stroke-width="3.2"/>
<line x1="413.2" y1="33.7" x2="492" y2="33.7" stroke="#111" stroke-width="3.2"/>
<line x1="413.0" y1="698.3" x2="492.3" y2="698.3" stroke="#111" stroke-width="3"/>
<line x1="413.90" y1="698.5" x2="413.90" y2="702.4" stroke="#111" stroke-width="1.4"/>
<line x1="433.20" y1="698.5" x2="433.20" y2="702.4" stroke="#111" stroke-width="1.4"/>
<line x1="454.60" y1="698.5" x2="454.60" y2="702.4" stroke="#111" stroke-width="1.4"/>
<line x1="471.90" y1="698.5" x2="471.90" y2="702.4" stroke="#111" stroke-width="1.4"/>
<line x1="491.60" y1="698.5" x2="491.60" y2="702.4" stroke="#111" stroke-width="1.4"/>
<circle cx="430.5" cy="66.1" r="3.05" fill="#111"/>
<circle cx="462.6" cy="71.7" r="2.8" fill="#fff" fill-opacity="0.55" stroke="#999" stroke-width="0.8"/>
<circle cx="473.1" cy="78.9" r="2.8" fill="#fff" fill-opacity="0.55" stroke="#333" stroke-width="0.7"/>
<circle cx="423.6" cy="88.3" r="3.05" fill="#111"/>
<circle cx="484.0" cy="107.8" r="2.8" fill="#fff" fill-opacity="0.55" stroke="#333" stroke-width="0.7"/>
<circle cx="426.5" cy="123.7" r="3.05" fill="#111"/>
<circle cx="473.1" cy="146.1" r="2.8" fill="#fff" fill-opacity="0.55" stroke="#333" stroke-width="0.7"/>
<circle cx="434.5" cy="155.0" r="3.05" fill="#111"/>
<circle cx="434.0" cy="164.6" r="3.05" fill="#111"/>
<circle cx="464.6" cy="183.6" r="2.8" fill="#fff" fill-opacity="0.55" stroke="#333" stroke-width="0.7"/>
<circle cx="432.4" cy="208.4" r="3.05" fill="#111"/>
<circle cx="472.6" cy="214.1" r="2.8" fill="#fff" fill-opacity="0.55" stroke="#333" stroke-width="0.7"/>
<circle cx="422.0" cy="223.2" r="3.05" fill="#111"/>
<circle cx="423.8" cy="238.1" r="3.05" fill="#111"/>
<circle cx="463.8" cy="246.6" r="2.8" fill="#fff" fill-opacity="0.55" stroke="#333" stroke-width="0.7"/>
<circle cx="475.0" cy="252.9" r="2.8" fill="#fff" fill-opacity="0.55" stroke="#333" stroke-width="0.7"/>
<circle cx="426.5" cy="255.4" r="3.05" fill="#111"/>
<circle cx="425.7" cy="259.8" r="3.05" fill="#111"/>
<circle cx="463.9" cy="263.0" r="2.8" fill="#fff" fill-opacity="0.55" stroke="#333" stroke-width="0.7"/>
<circle cx="429.4" cy="269.4" r="3.05" fill="#111"/>
<circle cx="429.2" cy="275.5" r="3.05" fill="#111"/>
<circle cx="479.0" cy="278.7" r="2.8" fill="#fff" fill-opacity="0.55" stroke="#333" stroke-width="0.7"/>
<circle cx="476.0" cy="283.1" r="2.8" fill="#fff" fill-opacity="0.55" stroke="#333" stroke-width="0.7"/>
<circle cx="449.0" cy="299.1" r="3.05" fill="#111"/>
<circle cx="427.6" cy="321.5" r="3.05" fill="#111"/>
<circle cx="462.3" cy="335.7" r="2.8" fill="#fff" fill-opacity="0.55" stroke="#333" stroke-width="0.7"/>
<circle cx="469.4" cy="348.1" r="2.8" fill="#fff" fill-opacity="0.55" stroke="#333" stroke-width="0.7"/>
<circle cx="473.6" cy="354.2" r="2.8" fill="#fff" fill-opacity="0.55" stroke="#333" stroke-width="0.7"/>
<circle cx="477.9" cy="382.6" r="2.8" fill="#fff" fill-opacity="0.55" stroke="#333" stroke-width="0.7"/>
<circle cx="421.7" cy="383.6" r="3.05" fill="#111"/>
<circle cx="427.0" cy="402.3" r="3.05" fill="#111"/>
<circle cx="426.8" cy="405.1" r="3.05" fill="#111"/>
<circle cx="422.8" cy="408.8" r="3.05" fill="#111"/>
<circle cx="472.6" cy="412.5" r="2.8" fill="#fff" fill-opacity="0.55" stroke="#333" stroke-width="0.7"/>
<circle cx="465.0" cy="416.5" r="2.8" fill="#fff" fill-opacity="0.55" stroke="#333" stroke-width="0.7"/>
<circle cx="440.5" cy="420.6" r="3.05" fill="#111"/>
<circle cx="480.8" cy="423.6" r="2.8" fill="#fff" fill-opacity="0.55" stroke="#333" stroke-width="0.7"/>
<circle cx="473.9" cy="427.5" r="2.8" fill="#fff" fill-opacity="0.55" stroke="#333" stroke-width="0.7"/>
<circle cx="420.9" cy="428.1" r="3.05" fill="#111"/>
<circle cx="480.8" cy="435.0" r="2.8" fill="#fff" fill-opacity="0.55" stroke="#333" stroke-width="0.7"/>
<circle cx="466.3" cy="439.3" r="2.8" fill="#fff" fill-opacity="0.55" stroke="#333" stroke-width="0.7"/>
<circle cx="450.6" cy="443.0" r="3.05" fill="#111"/>
<circle cx="436.9" cy="448.2" r="3.05" fill="#111"/>
<circle cx="479.8" cy="449.5" r="2.8" fill="#fff" fill-opacity="0.55" stroke="#333" stroke-width="0.7"/>
<circle cx="478.4" cy="454.6" r="2.8" fill="#fff" fill-opacity="0.55" stroke="#333" stroke-width="0.7"/>
<circle cx="479.0" cy="458.6" r="2.8" fill="#fff" fill-opacity="0.55" stroke="#333" stroke-width="0.7"/>
<circle cx="428.1" cy="460.2" r="3.05" fill="#111"/>
<circle cx="422.5" cy="465.8" r="3.05" fill="#111"/>
<circle cx="485.1" cy="469.5" r="2.8" fill="#fff" fill-opacity="0.55" stroke="#333" stroke-width="0.7"/>
<circle cx="431.0" cy="473.9" r="3.05" fill="#111"/>
<circle cx="477.9" cy="476.0" r="2.8" fill="#fff" fill-opacity="0.55" stroke="#333" stroke-width="0.7"/>
<circle cx="485.9" cy="479.8" r="2.8" fill="#fff" fill-opacity="0.55" stroke="#333" stroke-width="0.7"/>
<circle cx="431.8" cy="483.8" r="3.05" fill="#111"/>
<circle cx="425.2" cy="490.7" r="3.05" fill="#111"/>
<circle cx="445.4" cy="493.5" r="3.05" fill="#111"/>
<circle cx="425.4" cy="497.2" r="3.05" fill="#111"/>
<circle cx="420.4" cy="500.4" r="3.05" fill="#111"/>
<circle cx="426.8" cy="503.1" r="3.05" fill="#111"/>
<circle cx="427.0" cy="506.8" r="3.05" fill="#111"/>
<circle cx="467.4" cy="507.6" r="2.8" fill="#fff" fill-opacity="0.55" stroke="#333" stroke-width="0.7"/>
<circle cx="470.7" cy="513.7" r="2.8" fill="#fff" fill-opacity="0.55" stroke="#333" stroke-width="0.7"/>
<circle cx="451.7" cy="515.3" r="3.05" fill="#111"/>
<circle cx="427.8" cy="519.1" r="3.05" fill="#111"/>
<circle cx="470.3" cy="598.6" r="2.8" fill="#fff" fill-opacity="0.55" stroke="#333" stroke-width="0.7"/>
<circle cx="472.3" cy="601.5" r="2.8" fill="#fff" fill-opacity="0.55" stroke="#333" stroke-width="0.7"/>
<circle cx="460.5" cy="606.0" r="2.8" fill="#fff" fill-opacity="0.55" stroke="#333" stroke-width="0.7"/>
<circle cx="482.2" cy="606.7" r="2.8" fill="#fff" fill-opacity="0.55" stroke="#333" stroke-width="0.7"/>
<circle cx="471.9" cy="609.9" r="2.8" fill="#fff" fill-opacity="0.55" stroke="#333" stroke-width="0.7"/>
<circle cx="468.5" cy="612.0" r="2.8" fill="#fff" fill-opacity="0.55" stroke="#333" stroke-width="0.7"/>
<circle cx="481.4" cy="614.7" r="2.8" fill="#fff" fill-opacity="0.55" stroke="#333" stroke-width="0.7"/>
<circle cx="473.1" cy="616.5" r="2.8" fill="#fff" fill-opacity="0.55" stroke="#333" stroke-width="0.7"/>
<circle cx="458.0" cy="618.3" r="2.8" fill="#fff" fill-opacity="0.55" stroke="#333" stroke-width="0.7"/>
<circle cx="425.4" cy="623.1" r="3.05" fill="#111"/>
<circle cx="427.8" cy="626.8" r="3.05" fill="#111"/>
<circle cx="424.1" cy="630.4" r="3.05" fill="#111"/>
<circle cx="417.3" cy="632.7" r="3.05" fill="#111"/>
<text x="413.00" y="713.50" font-size="12.00" text-anchor="middle" fill="#111" textLength="12.90" lengthAdjust="spacingAndGlyphs" >90</text>
<text x="433.20" y="713.50" font-size="12.00" text-anchor="middle" fill="#111" textLength="12.30" lengthAdjust="spacingAndGlyphs" >45</text>
<text x="454.30" y="713.50" font-size="12.00" text-anchor="middle" fill="#111" >0</text>
<text x="469.70" y="713.50" font-size="12.00" text-anchor="middle" fill="#111" textLength="16.90" lengthAdjust="spacingAndGlyphs" >-45</text>
<text x="493.70" y="713.50" font-size="12.00" text-anchor="middle" fill="#111" textLength="16.80" lengthAdjust="spacingAndGlyphs" >-90</text>
<text x="454.00" y="739.60" font-size="19.00" text-anchor="middle" fill="#111" textLength="115.20" lengthAdjust="spacingAndGlyphs" >VGP Latitude</text>
<text x="455.00" y="757.10" font-size="15.00" text-anchor="middle" fill="#111" textLength="119.00" lengthAdjust="spacingAndGlyphs" >(Kotlia et al. 2008)</text>
<rect x="515.60" y="58.2" width="25.20" height="465.80" fill="#fff" stroke="#222" stroke-width="0.8"/>
<rect x="515.20" y="58.20" width="26.00" height="11.60" fill="#121412"/>
<rect x="515.20" y="85.20" width="26.00" height="14.50" fill="#121412"/>
<rect x="515.20" y="117.40" width="26.00" height="19.00" fill="#121412"/>
<rect x="515.20" y="151.20" width="26.00" height="25.50" fill="#121412"/>
<rect x="515.20" y="196.60" width="26.00" height="16.10" fill="#121412"/>
<rect x="515.20" y="220.30" width="26.00" height="23.70" fill="#121412"/>
<rect x="515.20" y="255.20" width="26.00" height="6.60" fill="#121412"/>
<rect x="515.20" y="268.30" width="26.00" height="10.40" fill="#121412"/>
<rect x="515.20" y="292.00" width="26.00" height="37.80" fill="#121412"/>
<rect x="515.20" y="384.20" width="26.00" height="27.40" fill="#121412"/>
<rect x="515.20" y="418.30" width="26.00" height="5.70" fill="#121412"/>
<rect x="515.20" y="428.10" width="26.00" height="4.90" fill="#121412"/>
<rect x="515.20" y="442.20" width="26.00" height="8.10" fill="#121412"/>
<rect x="515.20" y="460.20" width="26.00" height="7.60" fill="#121412"/>
<rect x="515.20" y="472.30" width="26.00" height="5.10" fill="#121412"/>
<rect x="515.20" y="485.20" width="26.00" height="24.10" fill="#121412"/>
<rect x="515.20" y="518.90" width="26.00" height="5.10" fill="#121412"/>
<line x1="515.60" y1="524" x2="515.60" y2="595.8" stroke="#222" stroke-width="0.9" stroke-dasharray="1.3,1.7"/>
<line x1="540.80" y1="524" x2="540.80" y2="595.8" stroke="#222" stroke-width="0.9" stroke-dasharray="1.3,1.7"/>
<rect x="515.60" y="595.8" width="25.20" height="41.70" fill="#fff" stroke="#222" stroke-width="0.8"/>
<rect x="515.20" y="623.2" width="26.00" height="14.30" fill="#121412"/>
<rect x="590.40" y="61.6" width="34.80" height="585.30" fill="#fff" stroke="#222" stroke-width="0.8"/>
<rect x="590.00" y="70.00" width="35.60" height="11.10" fill="#121412"/>
<rect x="590.00" y="89.20" width="35.60" height="12.50" fill="#121412"/>
<rect x="590.00" y="113.40" width="35.60" height="6.50" fill="#121412"/>
<rect x="590.00" y="125.20" width="35.60" height="17.40" fill="#121412"/>
<rect x="590.00" y="189.80" width="35.60" height="18.40" fill="#121412"/>
<rect x="590.00" y="215.80" width="35.60" height="21.00" fill="#121412"/>
<rect x="590.00" y="261.10" width="35.60" height="11.90" fill="#121412"/>
<rect x="590.00" y="275.40" width="35.60" height="4.30" fill="#121412"/>
<rect x="590.00" y="290.40" width="35.60" height="4.10" fill="#121412"/>
<rect x="590.00" y="296.90" width="35.60" height="10.80" fill="#121412"/>
<rect x="590.00" y="311.90" width="35.60" height="29.80" fill="#121412"/>
<rect x="590.00" y="350.90" width="35.60" height="5.10" fill="#121412"/>
<rect x="590.00" y="384.00" width="35.60" height="24.70" fill="#121412"/>
<rect x="590.00" y="421.00" width="35.60" height="6.90" fill="#121412"/>
<rect x="590.00" y="445.80" width="35.60" height="4.60" fill="#121412"/>
<rect x="590.00" y="456.40" width="35.60" height="9.40" fill="#121412"/>
<rect x="590.00" y="469.20" width="35.60" height="70.80" fill="#121412"/>
<rect x="590.00" y="546.70" width="35.60" height="5.10" fill="#121412"/>
<rect x="590.00" y="576.80" width="35.60" height="6.70" fill="#121412"/>
<rect x="590.00" y="609.50" width="35.60" height="10.80" fill="#121412"/>
<rect x="590.00" y="625.20" width="35.60" height="16.40" fill="#121412"/>
<line x1="625.20" y1="61.90" x2="628.8" y2="61.90" stroke="#333" stroke-width="1"/>
<text x="631.90" y="68.90" font-size="12.60" text-anchor="start" fill="#111" textLength="12.80" lengthAdjust="spacingAndGlyphs" >04</text>
<line x1="625.20" y1="128.70" x2="628.8" y2="128.70" stroke="#333" stroke-width="1"/>
<text x="631.90" y="133.90" font-size="12.60" text-anchor="start" fill="#111" textLength="12.80" lengthAdjust="spacingAndGlyphs" >05</text>
<line x1="625.20" y1="197.50" x2="628.8" y2="197.50" stroke="#333" stroke-width="1"/>
<text x="631.90" y="202.70" font-size="12.60" text-anchor="start" fill="#111" textLength="12.80" lengthAdjust="spacingAndGlyphs" >06</text>
<line x1="625.20" y1="268.30" x2="628.8" y2="268.30" stroke="#333" stroke-width="1"/>
<text x="631.90" y="273.50" font-size="12.60" text-anchor="start" fill="#111" textLength="12.80" lengthAdjust="spacingAndGlyphs" >07</text>
<line x1="625.20" y1="338.20" x2="628.8" y2="338.20" stroke="#333" stroke-width="1"/>
<text x="631.90" y="343.40" font-size="12.60" text-anchor="start" fill="#111" textLength="12.80" lengthAdjust="spacingAndGlyphs" >08</text>
<line x1="625.20" y1="406.10" x2="628.8" y2="406.10" stroke="#333" stroke-width="1"/>
<text x="631.90" y="411.30" font-size="12.60" text-anchor="start" fill="#111" textLength="12.80" lengthAdjust="spacingAndGlyphs" >09</text>
<line x1="625.20" y1="475.00" x2="628.8" y2="475.00" stroke="#333" stroke-width="1"/>
<text x="631.90" y="480.20" font-size="12.60" text-anchor="start" fill="#111" textLength="12.80" lengthAdjust="spacingAndGlyphs" >10</text>
<line x1="625.20" y1="545.50" x2="628.8" y2="545.50" stroke="#333" stroke-width="1"/>
<text x="631.90" y="550.70" font-size="12.60" text-anchor="start" fill="#111" textLength="12.80" lengthAdjust="spacingAndGlyphs" >11</text>
<line x1="625.20" y1="615.40" x2="628.8" y2="615.40" stroke="#333" stroke-width="1"/>
<text x="631.90" y="620.60" font-size="12.60" text-anchor="start" fill="#111" textLength="12.80" lengthAdjust="spacingAndGlyphs" >12</text>
<line x1="540.80" y1="58.20" x2="590.40" y2="71.00" stroke="#222" stroke-width="1.0" stroke-dasharray="1.8,2.4"/>
<line x1="540.80" y1="196.50" x2="590.40" y2="190.00" stroke="#222" stroke-width="1.0" stroke-dasharray="1.8,2.4"/>
<line x1="540.80" y1="329.80" x2="590.40" y2="341.10" stroke="#222" stroke-width="1.0" stroke-dasharray="1.8,2.4"/>
<line x1="540.80" y1="411.60" x2="590.40" y2="408.50" stroke="#222" stroke-width="1.0" stroke-dasharray="1.8,2.4"/>
<line x1="540.80" y1="524.00" x2="590.40" y2="546.50" stroke="#222" stroke-width="1.0" stroke-dasharray="1.8,2.4"/>
<text x="619.80" y="55.00" font-size="12.70" text-anchor="start" fill="#111" textLength="51.20" lengthAdjust="spacingAndGlyphs" >Age (Ma)</text>
<text x="608.00" y="670.70" font-size="19.00" text-anchor="middle" fill="#111" textLength="50.60" lengthAdjust="spacingAndGlyphs" >GPTS</text>
<text x="613.70" y="686.00" font-size="15.00" text-anchor="middle" fill="#111" textLength="140.80" lengthAdjust="spacingAndGlyphs" >(Cande &amp; Kent. 1995)</text>
<text transform="translate(505.8,326.5) rotate(-90)" font-size="19.3" text-anchor="middle" textLength="233" lengthAdjust="spacingAndGlyphs" fill="#111">Observed Polarity Sequence</text>
</svg>
</body></html>
